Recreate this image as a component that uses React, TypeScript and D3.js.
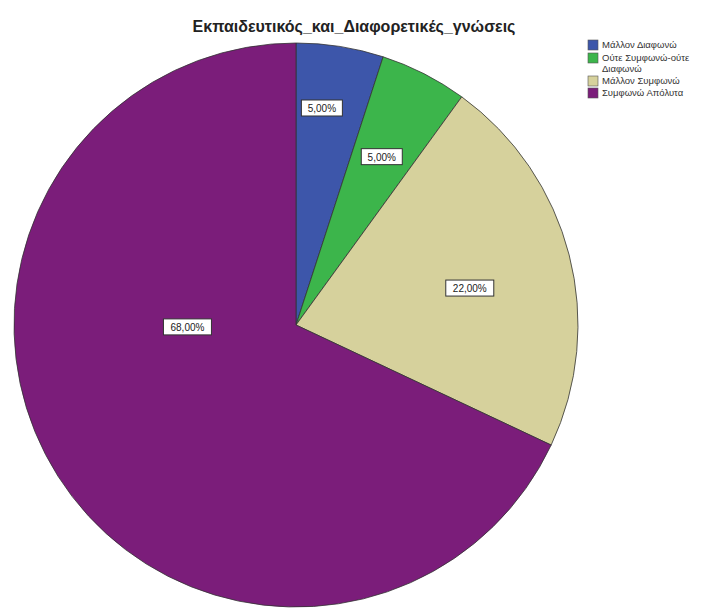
import React from "react";
import * as d3 from "d3";

const categories = ["Μάλλον Διαφωνώ", "Ούτε Συμφωνώ-ούτε Διαφωνώ", "Μάλλον Συμφωνώ", "Συμφωνώ Απόλυτα"];
const legendLines = [["Μάλλον Διαφωνώ"], ["Ούτε Συμφωνώ-ούτε", "Διαφωνώ"], ["Μάλλον Συμφωνώ"], ["Συμφωνώ Απόλυτα"]];
const values = [5, 5, 22, 68];
const labels = ["5,00%", "5,00%", "22,00%", "68,00%"];
const colors = ["#3d56aa", "#3cb54b", "#d6d19c", "#7b1d7a"];
// label placement (radius fraction, angle in degrees clockwise from top)
const labelRadius = [0.775, 0.67, 0.63, 0.385];
const labelAngle = [6.8, 27, 78, 269];

export default function App() {
  const W = 720, H = 608;
  const cx = 296, cy = 325, r = 282;
  const pie = d3.pie<number>().sort(null).value((d) => d);
  const arcs = pie(values);
  const arc = d3.arc<d3.PieArcDatum<number>>().innerRadius(0).outerRadius(r);
  return (
    <svg width={W} height={H} style={{ position: "absolute", left: 0, top: 0, background: "#fff" }}
      fontFamily="Liberation Sans, Arial, sans-serif">
      <text x={354} y={32} textAnchor="middle" fontSize={16} fontWeight="bold" fill="#222">
        Εκπαιδευτικός_και_Διαφορετικές_γνώσεις
      </text>
      <g transform={`translate(${cx},${cy})`}>
        {arcs.map((a, i) => (
          <path key={i} d={arc(a) || ""} fill={colors[i]} stroke="#333" strokeWidth={0.8} />
        ))}
        {arcs.map((a, i) => {
          const ang = (labelAngle[i] * Math.PI) / 180;
          const rr = labelRadius[i] * r;
          const x = Math.sin(ang) * rr;
          const y = -Math.cos(ang) * rr;
          const w = labels[i].length * 7 + 6;
          return (
            <g key={"l" + i} transform={`translate(${x},${y})`}>
              <rect x={-w / 2} y={-8} width={w} height={16} fill="#fff" stroke="#333" strokeWidth={1} />
              <text x={0} y={4} textAnchor="middle" fontSize={10} fill="#222">{labels[i]}</text>
            </g>
          );
        })}
      </g>
      <g>
        {categories.map((c, i) => {
          const ys = [40, 53, 76, 88];
          return (
            <g key={c} transform={`translate(588,${ys[i]})`}>
              <rect x={0} y={0} width={10} height={10} fill={colors[i]} stroke="#555" strokeWidth={0.6} />
              {legendLines[i].map((t, j) => (
                <text key={j} x={14} y={8 + j * 10.5} fontSize={9.5} fill="#333">{t}</text>
              ))}
            </g>
          );
        })}
      </g>
    </svg>
  );
}
